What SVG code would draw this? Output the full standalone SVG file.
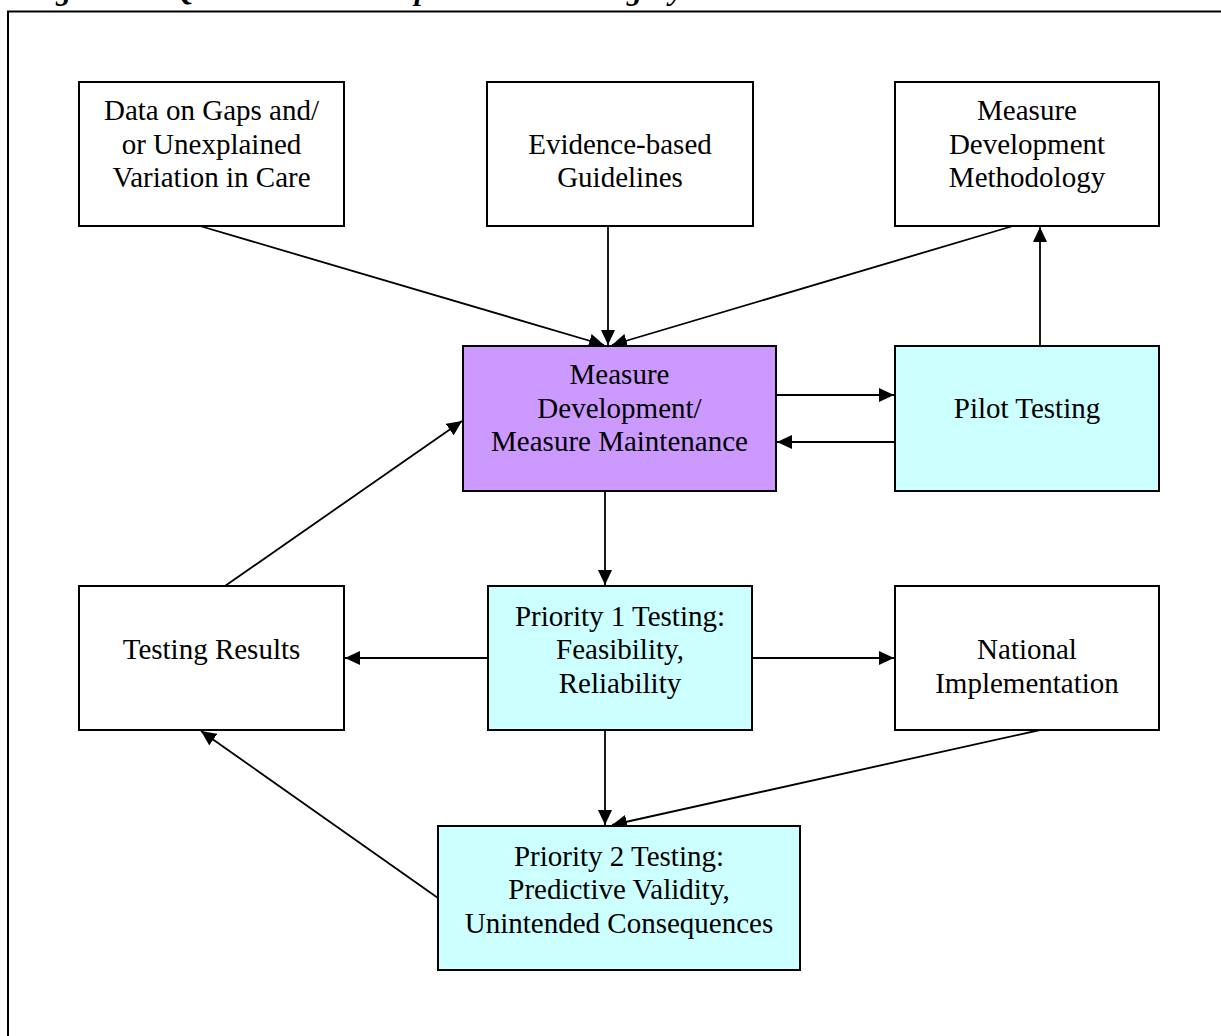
<svg xmlns="http://www.w3.org/2000/svg" width="1221" height="1036" viewBox="0 0 1221 1036">
<style>
.box{stroke:#000;stroke-width:2;fill:#fff}
.purple{fill:#CC99FF}
.cyan{fill:#CCFFFF}
.t{font-family:"Liberation Serif","Times New Roman",serif;font-size:29px;fill:#000;text-anchor:middle}
.title{font-family:"Liberation Serif","Times New Roman",serif;font-size:30px;font-weight:bold;font-style:italic;fill:#000}
.c{stroke:#000;stroke-width:1.8;fill:none;marker-end:url(#ah)}
</style>
<defs>
<marker id="ah" markerUnits="userSpaceOnUse" markerWidth="16" markerHeight="14" refX="15" refY="7" orient="auto">
<path d="M0,0 L15,7 L0,14 z" fill="#000"/>
</marker>
</defs>
<rect width="1221" height="1036" fill="#fff"/>
<text class="title" x="28" y="-0.5">Figure 6.1. QI Measure Development and Testing Cycle</text>
<rect x="8" y="11.5" width="1230" height="1040" fill="none" stroke="#000" stroke-width="2"/>
<g id="connectors">
<line class="c" x1="200" y1="226" x2="604" y2="345"/>
<line class="c" x1="608" y1="226" x2="608" y2="345"/>
<line class="c" x1="1013" y1="226" x2="612" y2="345"/>
<line class="c" x1="1040" y1="346" x2="1040" y2="227"/>
<line class="c" x1="776" y1="395" x2="894" y2="395"/>
<line class="c" x1="895" y1="442" x2="777" y2="442"/>
<line class="c" x1="605" y1="491" x2="605" y2="585"/>
<line class="c" x1="488" y1="658" x2="345" y2="658"/>
<line class="c" x1="752" y1="658" x2="894" y2="658"/>
<line class="c" x1="225" y1="586" x2="462" y2="421"/>
<line class="c" x1="605" y1="730" x2="605" y2="825"/>
<line class="c" x1="1040" y1="730" x2="612" y2="825"/>
<line class="c" x1="438" y1="898" x2="201" y2="731"/>
</g>
<g id="data-gaps">
<rect class="box" x="79" y="82" width="265" height="144"/>
<text class="t" x="211.5" y="120">Data on Gaps and/</text>
<text class="t" x="211.5" y="153.5">or Unexplained</text>
<text class="t" x="211.5" y="187">Variation in Care</text>
</g>
<g id="evidence">
<rect class="box" x="487" y="82" width="266" height="144"/>
<text class="t" x="620" y="153.5">Evidence-based</text>
<text class="t" x="620" y="187">Guidelines</text>
</g>
<g id="methodology">
<rect class="box" x="895" y="82" width="264" height="144"/>
<text class="t" x="1027" y="120">Measure</text>
<text class="t" x="1027" y="153.5">Development</text>
<text class="t" x="1027" y="187">Methodology</text>
</g>
<g id="measure-dev">
<rect class="box purple" x="463" y="346" width="313" height="145"/>
<text class="t" x="619.5" y="384">Measure</text>
<text class="t" x="619.5" y="418">Development/</text>
<text class="t" x="619.5" y="451">Measure Maintenance</text>
</g>
<g id="pilot">
<rect class="box cyan" x="895" y="346" width="264" height="145"/>
<text class="t" x="1027" y="418">Pilot Testing</text>
</g>
<g id="testing-results">
<rect class="box" x="79" y="586" width="265" height="144"/>
<text class="t" x="211.5" y="659">Testing Results</text>
</g>
<g id="priority1">
<rect class="box cyan" x="488" y="586" width="264" height="144"/>
<text class="t" x="620" y="626">Priority 1 Testing:</text>
<text class="t" x="620" y="659">Feasibility,</text>
<text class="t" x="620" y="693">Reliability</text>
</g>
<g id="national">
<rect class="box" x="895" y="586" width="264" height="144"/>
<text class="t" x="1027" y="659">National</text>
<text class="t" x="1027" y="693">Implementation</text>
</g>
<g id="priority2">
<rect class="box cyan" x="438" y="826" width="362" height="144"/>
<text class="t" x="619" y="866">Priority 2 Testing:</text>
<text class="t" x="619" y="899">Predictive Validity,</text>
<text class="t" x="619" y="933">Unintended Consequences</text>
</g>
</svg>
